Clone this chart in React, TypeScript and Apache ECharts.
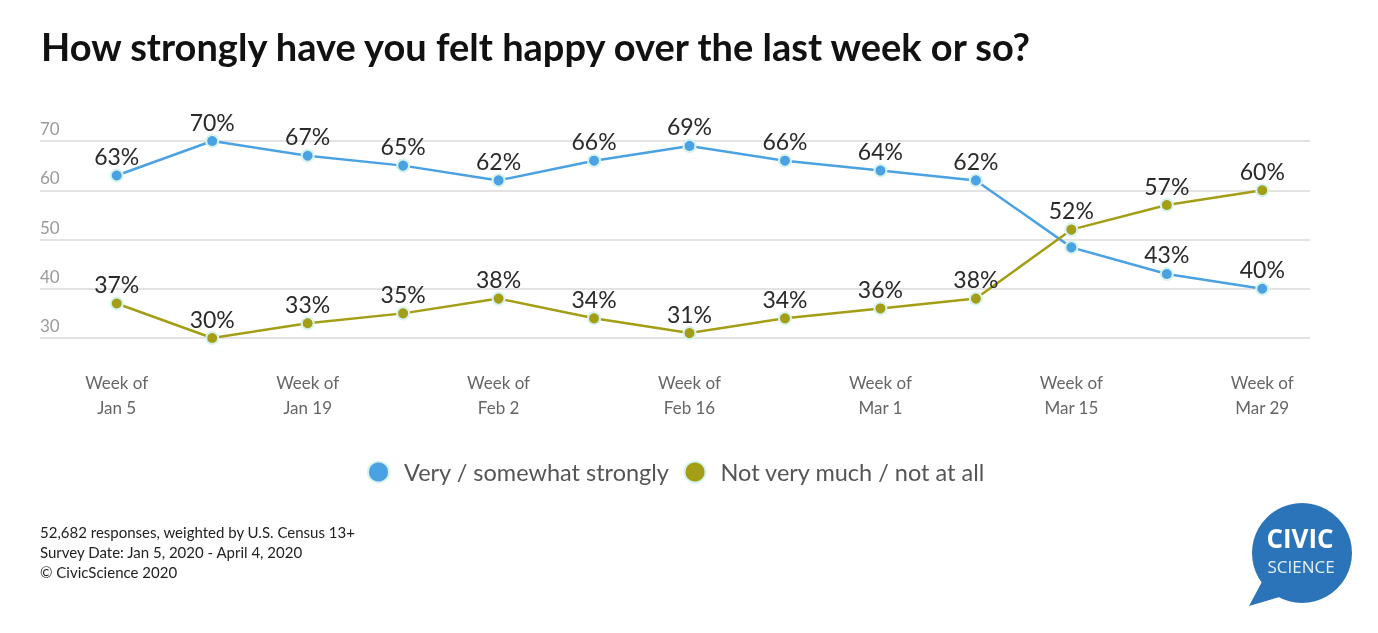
import React, { useEffect, useRef } from "react";
import * as echarts from "echarts";

const weeks = [
  "Week of\nJan 5", "Week of\nJan 12", "Week of\nJan 19", "Week of\nJan 26",
  "Week of\nFeb 2", "Week of\nFeb 9", "Week of\nFeb 16", "Week of\nFeb 23",
  "Week of\nMar 1", "Week of\nMar 8", "Week of\nMar 15", "Week of\nMar 22",
  "Week of\nMar 29",
];
const strongly = [63, 70, 67, 65, 62, 66, 69, 66, 64, 62, 48.4, 43, 40];
const notMuch = [37, 30, 33, 35, 38, 34, 31, 34, 36, 38, 52, 57, 60];
const hiddenLabelIndex = 10;
const seriesNames = ["Very / somewhat strongly", "Not very much / not at all"];
const yTicks = [30, 40, 50, 60, 70];
const titleText = "How strongly have you felt happy over the last week or so?";
const footnotes = [
  "52,682 responses, weighted by U.S. Census 13+",
  "Survey Date: Jan 5, 2020 - April 4, 2020",
  "© CivicScience 2020",
];

const BLUE = "#4ba2e2";
const OLIVE = "#a39e16";
const FONT = "Lato, 'Noto Sans', sans-serif";

export default function App() {
  const ref = useRef<HTMLDivElement>(null);
  useEffect(() => {
    if (!ref.current) return;
    const chart = echarts.init(ref.current, null, { renderer: "svg" });
    const yMin = yTicks[0];
    const yMax = yTicks[yTicks.length - 1];
    const labelCfg = {
      show: true,
      position: "top" as const,
      distance: 1,
      formatter: (p: any) => Math.round(p.value) + "%",
      color: "#2a2a2a",
      fontSize: 23,
      fontFamily: FONT,
    };
    const marker = (c: string) => ({
      color: c,
      borderColor: "#d6f3ee",
      borderWidth: 2,
    });
    chart.setOption({
      animation: false,
      textStyle: { fontFamily: FONT },
      title: {
        text: titleText,
        left: 36,
        top: 22,
        textStyle: { fontSize: 38, fontWeight: "bold", color: "#111", fontFamily: FONT },
      },
      legend: {
        top: 455,
        left: 362,
        icon: "circle",
        itemWidth: 21,
        itemHeight: 21,
        itemGap: 14,
        textStyle: {
          fontSize: 23.5,
          color: "#555",
          fontFamily: FONT,
          padding: [0, 0, 0, 10],
        },
        data: seriesNames,
      },
      grid: [
        { left: 40, right: 68, top: 141, bottom: 295 },
        { left: 69, right: 68, top: 141, bottom: 295 },
      ],
      xAxis: [
        { type: "value", gridIndex: 0, show: false, min: 0, max: 1 },
        {
          type: "category",
          gridIndex: 1,
          data: weeks,
          boundaryGap: true,
          axisLine: { show: false },
          axisTick: { show: false },
          axisLabel: {
            interval: 1,
            margin: 32,
            fontSize: 17,
            lineHeight: 25,
            color: "#666",
            fontFamily: FONT,
          },
        },
      ],
      yAxis: [
        {
          type: "value",
          gridIndex: 0,
          min: yMin,
          max: yMax,
          interval: 10,
          axisLine: { show: false },
          axisTick: { show: false },
          splitLine: { show: true, lineStyle: { color: "#e3e3e3", width: 2 } },
          axisLabel: {
            inside: true,
            margin: 0,
            verticalAlign: "bottom",
            padding: [0, 0, 4, 0],
            fontSize: 17,
            color: "#999",
            fontFamily: FONT,
          },
        },
        {
          type: "value",
          gridIndex: 1,
          min: yMin,
          max: yMax,
          interval: 10,
          show: false,
          splitLine: { show: false },
        },
      ],
      series: [
        {
          name: seriesNames[0],
          type: "line",
          xAxisIndex: 1,
          yAxisIndex: 1,
          data: strongly.map((v, i) =>
            i === hiddenLabelIndex ? { value: v, label: { show: false } } : v
          ),
          symbol: "circle",
          symbolSize: 12,
          color: BLUE,
          lineStyle: { color: BLUE, width: 2.5 },
          itemStyle: marker(BLUE),
          label: labelCfg,
          z: 2,
        },
        {
          name: seriesNames[1],
          type: "line",
          xAxisIndex: 1,
          yAxisIndex: 1,
          data: notMuch,
          symbol: "circle",
          symbolSize: 12,
          color: OLIVE,
          lineStyle: { color: OLIVE, width: 2.5 },
          itemStyle: marker(OLIVE),
          label: labelCfg,
          z: 3,
        },
      ],
      graphic: [
        ...footnotes.map((t, i) => ({
          type: "text",
          left: 40,
          top: 524 + i * 20,
          style: { text: t, fontSize: 15, fill: "#222", fontFamily: FONT },
        })),
        {
          type: "polygon",
          shape: { points: [[1264, 578], [1249, 606], [1290, 594]] },
          style: { fill: "#2b74ba" },
        },
        {
          type: "circle",
          shape: { cx: 1302, cy: 553, r: 50 },
          style: { fill: "#2b74ba" },
        },
        {
          type: "text",
          x: 1300,
          y: 538,
          style: {
            text: "CIVIC",
            fontSize: 26,
            fontWeight: "bold",
            fill: "#ffffff",
            align: "center",
            verticalAlign: "middle",
            fontFamily: "'Open Sans', sans-serif",
          },
        },
        {
          type: "text",
          x: 1301,
          y: 566,
          style: {
            text: "SCIENCE",
            fontSize: 17,
            fill: "#e6eef8",
            align: "center",
            verticalAlign: "middle",
            fontFamily: "'Open Sans', sans-serif",
          },
        },
      ],
    });
    return () => chart.dispose();
  }, []);
  return (
    <div
      ref={ref}
      style={{ position: "fixed", left: 0, top: 0, width: 1378, height: 633 }}
    />
  );
}
